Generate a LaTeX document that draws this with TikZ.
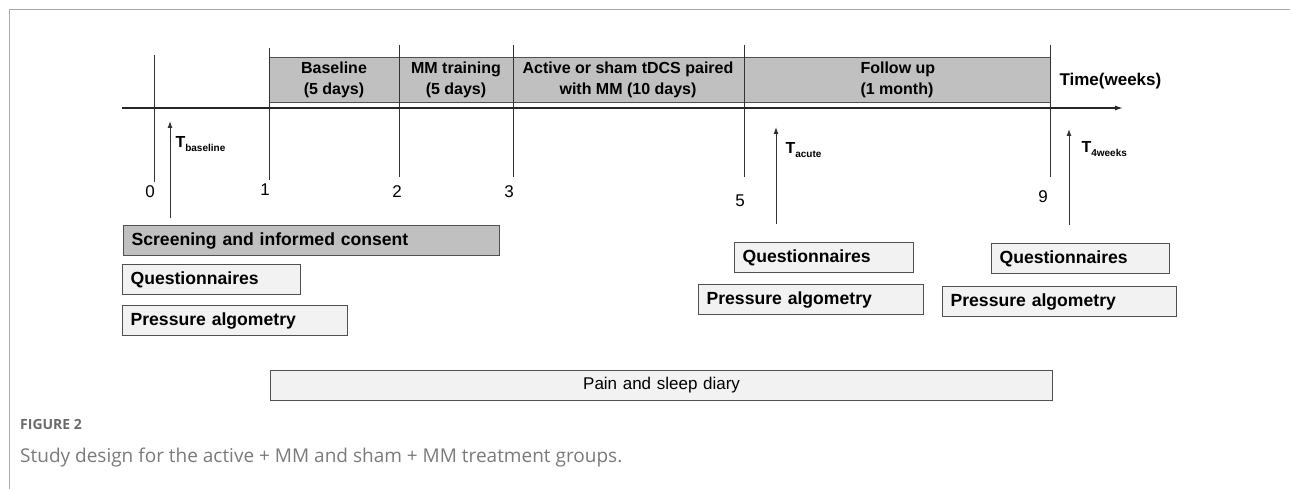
\documentclass[tikz,border=0pt]{standalone}
\usepackage{fontspec}
\setmainfont{Liberation Sans}
\newfontfamily\capfont{Open Sans}
\usetikzlibrary{arrows.meta}
\definecolor{bargray}{HTML}{C0C0C0}
\definecolor{lightfill}{HTML}{F2F2F2}
\definecolor{edgegray}{HTML}{505050}
\definecolor{framegray}{HTML}{AAAAAA}
\definecolor{capgray}{HTML}{7A7A7A}
\definecolor{figgray}{HTML}{6A6A6A}
\begin{document}
\begin{tikzpicture}[x=1pt,y=-1pt,
  frameline/.style={draw=framegray, line width=1pt},
  ticklne/.style={draw=black!80, line width=1pt},
  axisline/.style={draw=black!85, line width=1.3pt},
  tarrow/.style={draw=black!80, line width=1pt, -{Latex[length=7pt,width=5pt]}},
  lbox/.style={draw=edgegray, line width=1.2pt, fill=lightfill, inner xsep=8pt, inner ysep=0pt,
     minimum height=30pt, anchor=north west, align=left, font=\bfseries\fontsize{17.6}{20}\selectfont},
  bartext/.style={align=center, font=\bfseries\fontsize{16}{21}\selectfont},
  numlbl/.style={font=\fontsize{17}{17}\selectfont},
  tlbl/.style={anchor=base west, font=\bfseries\fontsize{16}{16}\selectfont},
]
\useasboundingbox (0,0) rectangle (1290,489);
% frame
\coordinate (fa) at (9,489);
\coordinate (fb) at (9,10);
\coordinate (fc) at (1290,10);
\draw[frameline] (fa) -- (fb) -- (fc);

% gray bar
\node[draw=edgegray, line width=1.2pt, fill=bargray, minimum width=781pt, minimum height=45pt,
      inner sep=0pt, anchor=north west] (bar) at (269,57) {};

% ticks
\coordinate (t0a) at (154,55);  \coordinate (t0b) at (154,182);
\coordinate (t1a) at (269,48);  \coordinate (t1b) at (269,180);
\coordinate (t2a) at (399,45);  \coordinate (t2b) at (399,177);
\coordinate (t3a) at (513,45);  \coordinate (t3b) at (513,177);
\coordinate (t5a) at (744,45);  \coordinate (t5b) at (744,177);
\coordinate (t9a) at (1050,45); \coordinate (t9b) at (1050,177);
\foreach \t in {0,1,2,3,5,9} { \draw[ticklne] (t\t a) -- (t\t b); }

% axis
\coordinate (axs) at (122,108);
\coordinate (axe) at (1123,108);
\draw[axisline, -{Latex[length=8pt,width=5pt]}] (axs) -- (axe);

% bar texts
\node[bartext] (bl) at (334,80) {Baseline\\(5 days)};
\node[bartext] (mm) at (456,80) {MM training\\(5 days)};
\node[bartext] (act) at (628,80) {Active or sham tDCS paired\\with MM (10 days)};
\node[bartext, align=left, anchor=west] (fu) at (857,80) {Follow up\\(1 month)};
\node[anchor=west, font=\bfseries\fontsize{17}{20}\selectfont] (tw) at (1056,81) {Time(weeks)};

% numbers
\node[numlbl] (n0) at (150,192) {0};
\node[numlbl] (n1) at (265,190) {1};
\node[numlbl] (n2) at (397,192) {2};
\node[numlbl] (n3) at (509,192) {3};
\node[numlbl] (n5) at (740,201) {5};
\node[numlbl] (n9) at (1043,197) {9};

% time-point arrows
\coordinate (ab0) at (170,218); \coordinate (ab1) at (170,121);
\coordinate (aa0) at (776,224); \coordinate (aa1) at (776,127);
\coordinate (aw0) at (1069,225); \coordinate (aw1) at (1069,129);
\draw[tarrow] (ab0) -- (ab1);
\draw[tarrow] (aa0) -- (aa1);
\draw[tarrow] (aw0) -- (aw1);
\node[tlbl] (lb) at (172,148) {T\raisebox{-3.5pt}{\fontsize{10}{10}\selectfont baseline}};
\node[tlbl] (la) at (782,154) {T\raisebox{-3.5pt}{\fontsize{10}{10}\selectfont acute}};
\node[tlbl] (lw) at (1078,153) {T\raisebox{-3.5pt}{\fontsize{10}{10}\selectfont 4weeks}};

% boxes
\node[lbox, fill=bargray, text width=360pt] (scr) at (123,225) {Screening and informed consent};
\node[lbox, text width=162pt] (q1) at (122,264) {Questionnaires};
\node[lbox, text width=209pt] (p1) at (122,305) {Pressure algometry};
\node[lbox, text width=163pt] (q2) at (734,242) {Questionnaires};
\node[lbox, text width=209pt] (p2) at (698,284) {Pressure algometry};
\node[lbox, text width=162pt] (q3) at (991,243) {Questionnaires};
\node[lbox, text width=218pt] (p3) at (942,286) {Pressure algometry};
\node[lbox, text width=766pt, align=center, font=\fontsize{17}{20}\selectfont] (pain) at (270,370) {Pain and sleep diary};

% caption
\node[anchor=base west, inner sep=0pt, text=figgray, font=\capfont\bfseries\fontsize{14}{14}\selectfont] (fig) at (20,429) {FIGURE 2};
\node[anchor=base west, inner sep=0pt, text=capgray, font=\capfont\fontsize{19}{20}\selectfont] (cap) at (20,462) {Study design for the active + MM and sham + MM treatment groups.};
\end{tikzpicture}
\end{document}
